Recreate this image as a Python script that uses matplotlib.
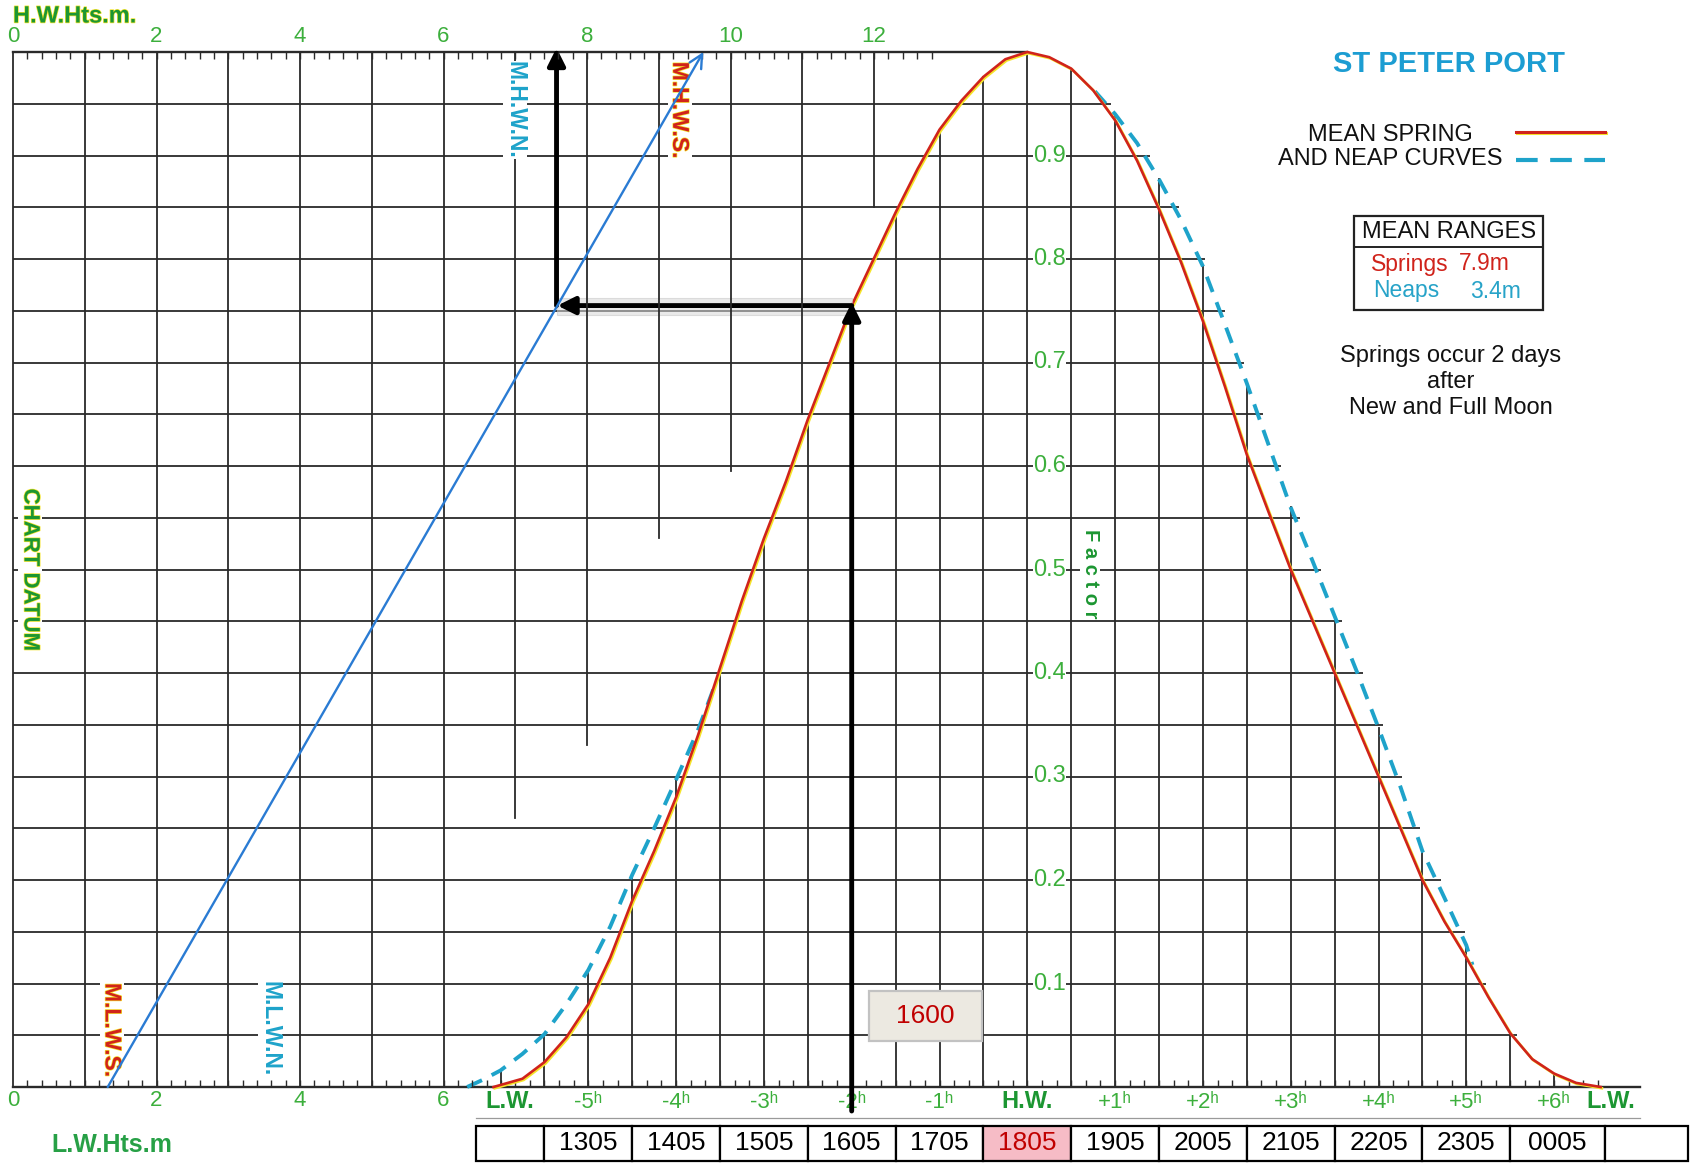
import numpy as np
import matplotlib
matplotlib.use("Agg")
import matplotlib.pyplot as plt
import matplotlib.patheffects as pe
from matplotlib.patches import Rectangle
from matplotlib.lines import Line2D

# ---------------- data ----------------
spring_t = [-6.08, -5.75, -5.5, -5.25, -5.0, -4.75, -4.5, -4.25, -4.0, -3.75, -3.5, -3.25,
            -3.0, -2.75, -2.5, -2.25, -2.0, -1.75, -1.5, -1.25, -1.0, -0.75, -0.5, -0.25,
            0.0, 0.25, 0.5, 0.75, 1.0, 1.25, 1.5, 1.75, 2.0, 2.25, 2.5, 2.75, 3.0, 3.25,
            3.5, 3.75, 4.0, 4.25, 4.5, 4.75, 5.0, 5.25, 5.5, 5.75, 6.0, 6.25, 6.53]
spring_f = [0.0, 0.008, 0.024, 0.048, 0.08, 0.125, 0.18, 0.228, 0.28, 0.34, 0.405, 0.47,
            0.53, 0.585, 0.645, 0.70, 0.755, 0.80, 0.845, 0.887, 0.925, 0.953, 0.976, 0.993,
            1.0, 0.995, 0.984, 0.963, 0.934, 0.895, 0.848, 0.797, 0.740, 0.677, 0.611, 0.555,
            0.50, 0.45, 0.40, 0.35, 0.30, 0.25, 0.20, 0.16, 0.125, 0.087, 0.052, 0.027,
            0.013, 0.004, 0.0]
neap_rise_t = [-6.38, -6.2, -6.0, -5.75, -5.5, -5.25, -5.0, -4.75, -4.5, -4.25, -4.0, -3.75, -3.55]
neap_rise_f = [0.0, 0.007, 0.016, 0.032, 0.051, 0.08, 0.113, 0.155, 0.205, 0.25, 0.297, 0.345, 0.39]
neap_fall_t = [0.77, 1.0, 1.25, 1.5, 1.75, 2.0, 2.25, 2.5, 2.75, 3.0, 3.25, 3.5, 3.75,
               4.0, 4.25, 4.5, 4.75, 5.0, 5.07]
neap_fall_f = [0.962, 0.94, 0.912, 0.877, 0.838, 0.793, 0.737, 0.68, 0.62, 0.56, 0.508, 0.455,
               0.402, 0.347, 0.29, 0.228, 0.183, 0.137, 0.118]

top_height_labels = [0, 2, 4, 6, 8, 10, 12]
low_height_labels = [0, 2, 4, 6]
hour_ticks = [-5, -4, -3, -2, -1, 1, 2, 3, 4, 5, 6]
hour_labels = ['-5ʰ', '-4ʰ', '-3ʰ', '-2ʰ', '-1ʰ', '+1ʰ', '+2ʰ', '+3ʰ', '+4ʰ', '+5ʰ', '+6ʰ']
factor_ticks = [0.1, 0.2, 0.3, 0.4, 0.5, 0.6, 0.7, 0.8, 0.9]
height_line_ends = [0.26, 0.33, 0.53, 0.595, 0.65, 0.85]   # metres 7..12, lower end (factor)
table_times = ['', '1305', '1405', '1505', '1605', '1705', '1805', '1905', '2005',
               '2105', '2205', '2305', '0005', '']
table_edges_h = [-6.28, -5.5, -4.5, -3.5, -2.5, -1.5, -0.5, 0.5, 1.5, 2.5, 3.5, 4.5, 5.5, 6.58, 7.53]
hw_time = '1805'
level_labels = ['M.L.W.S.', 'M.L.W.N.', 'M.H.W.N.', 'M.H.W.S.']
level_heights = [1.38, 3.58, 7.0, 9.29]
diag_start_m, diag_end_m = 1.32, 9.62
query_hour = -2.0
query_label = '1600'
mean_springs = 7.9
mean_neaps = 3.4

# ---------------- layout ----------------
W, H = 1692, 1163
PX_M0, PX_PER_M = 13.0, 71.76
PX_HW, PX_PER_H = 1027.3, 87.8
PY_F0, PY_PER_F = 1087.0, 1035.0


def m2t(m):
    return (PX_M0 + m * PX_PER_M - PX_HW) / PX_PER_H


def px2t(px):
    return (px - PX_HW) / PX_PER_H


def py2f(py):
    return (PY_F0 - py) / PY_PER_F


def fx(px):
    return px / W


def fy(py):
    return 1 - py / H


plt.rcParams['font.family'] = ['Liberation Sans', 'DejaVu Sans']
NARROW = ['Liberation Sans Narrow', 'Liberation Sans', 'DejaVu Sans']

GRID = '#2a2a2a'
GREEN = '#3caf3c'
DGREEN = '#1c9632'
CYAN = '#1ea3ca'
RED = '#d0231b'
YEL = '#f5e42a'
BLUE = '#2a7bd3'
LWG = 1.3

fig = plt.figure(figsize=(W / 100, H / 100), dpi=100)
ax = fig.add_axes([0, 0, 1, 1])          # x: hours from HW, y: factor
ax.set_xlim(px2t(0), px2t(W))
ax.set_ylim(py2f(H), py2f(0))
ax.axis('off')
axm = ax.twiny()                          # x: height in metres
axm.set_xlim((0 - PX_M0) / PX_PER_M, (W - PX_M0) / PX_PER_M)
axm.axis('off')

st = np.array(spring_t)
sf = np.array(spring_f)
fall = st >= 0
st_fall, sf_fall = st[fall], sf[fall]

# horizontal grid lines
for y in np.round(np.arange(0.05, 0.951, 0.05), 2):
    te = np.interp(y, sf_fall[::-1], st_fall[::-1])
    if min(neap_fall_f) <= y <= max(neap_fall_f):
        te = max(te, np.interp(y, neap_fall_f[::-1], neap_fall_t[::-1]))
    ax.plot([m2t(0), te + 0.06], [y, y], color=GRID, lw=LWG, zorder=1, solid_capstyle='butt')
ax.plot([m2t(0), 0], [1, 1], color=GRID, lw=1.7, zorder=1)
ax.plot([m2t(0), px2t(1640)], [0, 0], color=GRID, lw=1.7, zorder=1)

# vertical time grid lines (half hours)
for t in np.arange(-6, 6.01, 0.5):
    top = np.interp(t, spring_t, spring_f)
    if neap_rise_t[0] <= t <= neap_rise_t[-1]:
        top = max(top, np.interp(t, neap_rise_t, neap_rise_f))
    if neap_fall_t[0] <= t <= neap_fall_t[-1]:
        top = max(top, np.interp(t, neap_fall_t, neap_fall_f))
    ax.plot([t, t], [0, top], color=GRID, lw=LWG, zorder=1)

# vertical height grid lines
for m in range(0, 7):
    axm.plot([m, m], [0, 1], color=GRID, lw=LWG, zorder=1)
for m, fe in zip(range(7, 13), height_line_ends):
    axm.plot([m, m], [fe, 1], color=GRID, lw=LWG, zorder=1)

# ruler ticks
tk = 0.0065
axm.vlines(np.arange(0.2, 12.81, 0.2), 1 - tk, 1, color=GRID, lw=1.0)
axm.vlines(np.arange(0.2, 6.61, 0.2), 0, tk, color=GRID, lw=1.0)
ax.vlines(np.arange(-6, 6.51, 1 / 6), 0, tk, color=GRID, lw=1.0)

# curves
ax.plot(neap_rise_t, neap_rise_f, color=CYAN, lw=2.8, dashes=(4.2, 2.8), zorder=3)
ax.plot(neap_fall_t, neap_fall_f, color=CYAN, lw=2.8, dashes=(4.2, 2.8), zorder=3)
shadow = [pe.SimpleLineShadow(offset=(0.9, -0.9), shadow_color=YEL, alpha=1), pe.Normal()]
ax.plot(spring_t, spring_f, color=RED, lw=1.9, zorder=4, path_effects=shadow)

# blue construction line (MLWS -> MHWS)
axm.annotate('', xy=(diag_end_m, 1.0), xytext=(diag_start_m, 0.0),
             arrowprops=dict(arrowstyle='->', color=BLUE, lw=1.7, mutation_scale=24,
                             shrinkA=0, shrinkB=0), zorder=5)

# black worked-example arrows
qf = np.interp(query_hour, spring_t, spring_f)
qm = diag_start_m + qf * (diag_end_m - diag_start_m)
qt = m2t(qm)
ap = dict(arrowstyle='-|>', color='black', lw=3.5, mutation_scale=26, shrinkA=0, shrinkB=0)
ax.add_patch(Rectangle((qt, qf - 0.009), query_hour - qt, 0.016, fc='#d9d9d9', ec='#c8c8c8',
                       lw=0.8, alpha=0.55, zorder=5))
ax.annotate('', xy=(query_hour, qf + 0.003), xytext=(query_hour, py2f(1111)), arrowprops=ap, zorder=7)
ax.annotate('', xy=(qt, qf), xytext=(query_hour, qf), arrowprops=ap, zorder=7)
ax.annotate('', xy=(qt - 0.01, 1.004), xytext=(qt - 0.01, qf), arrowprops=ap, zorder=7)

# query box
bx0, bx1 = px2t(869), px2t(982)
by0, by1 = py2f(1041), py2f(991)
ax.add_patch(Rectangle((bx0, by0), bx1 - bx0, by1 - by0, fc='#ece9e1', ec='#c2c2c2', lw=1.6, zorder=6))
ax.text((bx0 + bx1) / 2, (by0 + by1) / 2, query_label, color='#c00000', fontsize=19,
        family=NARROW, ha='center', va='center', zorder=7)

# ---------------- labels ----------------
fringe = [pe.withStroke(linewidth=1.0, foreground=YEL)]
wbox = dict(fc='white', ec='none', pad=1.0)

fig.text(fx(13), fy(16), 'H.W.Hts.m.', color=DGREEN, fontsize=17, fontweight='bold',
         ha='left', va='center', path_effects=fringe)
for m in top_height_labels:
    axm.text(m, py2f(37), str(m), color=GREEN, fontsize=16, ha='center', va='center')
for m in low_height_labels:
    axm.text(m, py2f(1100), str(m), color=GREEN, fontsize=16, ha='center', va='center')
for t, lab in zip(hour_ticks, hour_labels):
    ax.text(t, py2f(1102), lab, color=GREEN, fontsize=16, ha='center', va='center')
for t in [0.0, px2t(510), px2t(1611)]:
    ax.text(t, py2f(1102), 'H.W.' if t == 0 else 'L.W.', color=DGREEN, fontsize=17,
            fontweight='bold', ha='center', va='center')

for f in factor_ticks:
    ax.text(px2t(1033), f, f'{f:.1f}', color=GREEN, fontsize=17, ha='left', va='center',
            bbox=dict(fc='white', ec='none', pad=0.3), zorder=5)
ax.text(px2t(1090), py2f(574), 'F a c t o r', color=DGREEN, fontsize=14.5, fontweight='bold',
        rotation=-90, ha='center', va='center', bbox=dict(fc='white', ec='none', pad=0.5), zorder=5)
axm.text((30 - PX_M0) / PX_PER_M, py2f(570), 'CHART DATUM', color=DGREEN, fontsize=16,
         fontweight='bold', rotation=-90, ha='center', va='center', bbox=wbox,
         path_effects=fringe, zorder=5)

lab_cols = [RED, CYAN, CYAN, RED]
lab_f = [py2f(1030), py2f(1029), py2f(110), py2f(110)]
for lab, m, c, f in zip(level_labels, level_heights, lab_cols, lab_f):
    effects = fringe if c == RED else None
    axm.text(m, f, lab, color=c, fontsize=16.5, fontweight='bold', rotation=-90,
             ha='center', va='center', bbox=dict(fc='white', ec='none', pad=0.4),
             path_effects=effects, zorder=4)

fig.text(fx(112), fy(1145), 'L.W.Hts.m', color='#27a046', fontsize=18, fontweight='bold',
         family=NARROW, ha='center', va='center')

# right-hand annotations
fig.text(fx(1449), fy(64), 'ST PETER PORT', color='#1c9dd2', fontsize=21, fontweight='bold',
         ha='center', va='center')
fig.text(fx(1390), fy(135), 'MEAN SPRING', color='#111111', fontsize=17, ha='center', va='center')
fig.text(fx(1390), fy(159), 'AND NEAP CURVES', color='#111111', fontsize=17, ha='center', va='center')
fig.add_artist(Line2D([fx(1516), fx(1605)], [fy(131.5), fy(131.5)], color=RED, lw=2.2,
                      transform=fig.transFigure, path_effects=shadow))
fig.add_artist(Line2D([fx(1516), fx(1605)], [fy(159.5), fy(159.5)], color=CYAN, lw=3.0,
                      dashes=(5.2, 3.0), transform=fig.transFigure))

fig.add_artist(Rectangle((fx(1354), fy(310)), fx(1543) - fx(1354), fy(216) - fy(310),
                         transform=fig.transFigure, fill=False, ec='#222222', lw=1.6))
fig.add_artist(Line2D([fx(1354), fx(1543)], [fy(247), fy(247)], color='#222222', lw=1.4,
                      transform=fig.transFigure))
fig.text(fx(1449), fy(232), 'MEAN RANGES', color='#111111', fontsize=17, ha='center', va='center')
fig.text(fx(1371), fy(264), 'Springs', color=RED, fontsize=16.5, ha='left', va='center')
fig.text(fx(1459), fy(264), f'{mean_springs:.1f}m', color=RED, fontsize=16.5, ha='left', va='center')
fig.text(fx(1373), fy(291), 'Neaps', color='#27a3c8', fontsize=16.5, ha='left', va='center')
fig.text(fx(1470), fy(291), f'{mean_neaps:.1f}m', color='#27a3c8', fontsize=16.5, ha='left', va='center')
fig.text(fx(1451), fy(356), 'Springs occur 2 days', color='#111111', fontsize=17, ha='center', va='center')
fig.text(fx(1451), fy(382), 'after', color='#111111', fontsize=17, ha='center', va='center')
fig.text(fx(1451), fy(408), 'New and Full Moon', color='#111111', fontsize=17, ha='center', va='center')

# ---------------- time table ----------------
yt, yb = py2f(1126), py2f(1161)
ax.plot([table_edges_h[0], px2t(1640)], [py2f(1118), py2f(1118)], color='#9a9a9a', lw=0.9, zorder=2)
for i, lab in enumerate(table_times):
    e0, e1 = table_edges_h[i], table_edges_h[i + 1]
    fc = '#f6bcc6' if lab == hw_time else 'white'
    ax.add_patch(Rectangle((e0, yb), e1 - e0, yt - yb, fc=fc, ec='black', lw=1.6, zorder=6, clip_on=False))
    if lab:
        ax.text((e0 + e1) / 2, (yt + yb) / 2, lab, fontsize=19, family=NARROW,
                color='#c00000' if lab == hw_time else 'black', ha='center', va='center', zorder=7)

fig.savefig('out.png', dpi=100)
